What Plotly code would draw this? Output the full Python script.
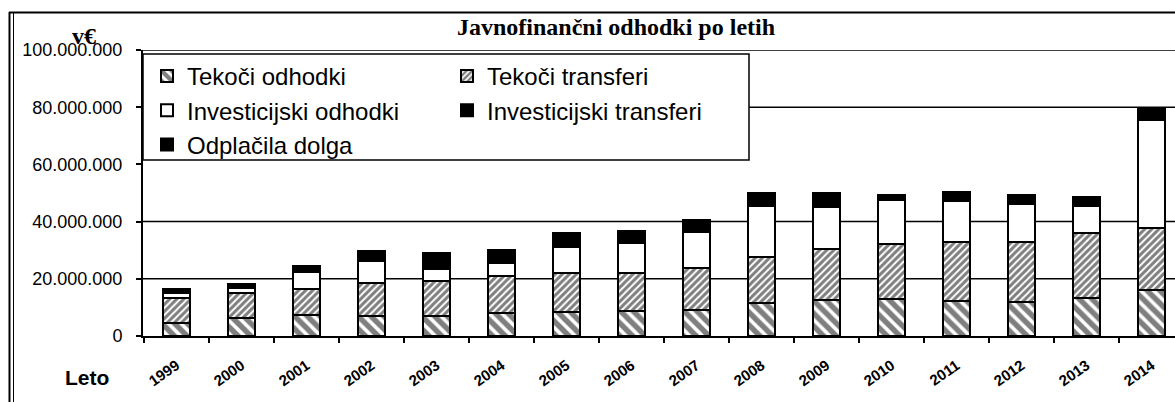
import plotly.graph_objects as go

# ---------------- data ----------------
years = ["1999", "2000", "2001", "2002", "2003", "2004", "2005", "2006",
         "2007", "2008", "2009", "2010", "2011", "2012", "2013", "2014"]

tekoci_odhodki = [4.5e6, 6.2e6, 7.3e6, 7.1e6, 7.1e6, 7.9e6, 8.5e6, 8.9e6,
                  9.2e6, 11.5e6, 12.5e6, 12.9e6, 12.1e6, 11.8e6, 13.2e6, 16.1e6]
tekoci_transferi = [8.7e6, 8.7e6, 9.0e6, 11.3e6, 12.1e6, 13.0e6, 13.6e6, 13.3e6,
                    14.7e6, 16.2e6, 17.9e6, 19.2e6, 20.9e6, 21.1e6, 22.8e6, 21.6e6]
investicijski_odhodki = [1.8e6, 1.75e6, 6.2e6, 7.8e6, 4.2e6, 4.8e6, 8.9e6, 10.2e6,
                         12.5e6, 17.7e6, 14.6e6, 15.3e6, 14.2e6, 13.1e6, 9.3e6, 38.0e6]
investicijski_transferi = [0.6e6, 0.6e6, 0.9e6, 1.6e6, 2.5e6, 2.0e6, 2.3e6, 1.9e6,
                           1.9e6, 2.0e6, 2.3e6, 0.8e6, 1.4e6, 1.4e6, 1.5e6, 1.8e6]
odplacila_dolga = [0.8e6, 0.9e6, 1.2e6, 1.9e6, 3.0e6, 2.5e6, 2.8e6, 2.4e6,
                   2.4e6, 2.5e6, 2.8e6, 1.2e6, 1.8e6, 1.8e6, 1.8e6, 2.3e6]

series_names = ["Tekoči odhodki", "Tekoči transferi", "Investicijski odhodki",
                "Investicijski transferi", "Odplačila dolga"]

y_ticks = [0, 20e6, 40e6, 60e6, 80e6, 100e6]
grid_values = [20e6, 40e6, 80e6, 100e6]   # 60M line not visible in the original

title_text = "Javnofinančni odhodki po letih"

# ---------------- layout helpers ----------------
W, H = 1175, 402
ML, MR, MT, MB = 143, 0, 50, 66
PW, PH = W - ML - MR, H - MT - MB


def px2x(px):
    return (px - ML) / PW


def px2y(py):
    return (H - MB - py) / PH


FONT = "Liberation Sans, Arial, sans-serif"
SERIF = "Liberation Serif, Times New Roman, serif"

line = dict(color="black", width=2)
styles = [
    dict(color="white", line=line,
         pattern=dict(shape="\\", fgcolor="black", bgcolor="white", size=9, solidity=0.6)),
    dict(color="white", line=line,
         pattern=dict(shape="/", fgcolor="black", bgcolor="white", size=5, solidity=0.6)),
    dict(color="white", line=line),
    dict(color="black", line=line),
    dict(color="black", line=line),
]
values = [tekoci_odhodki, tekoci_transferi, investicijski_odhodki,
          investicijski_transferi, odplacila_dolga]
legend_of = ["legend", "legend2", "legend", "legend2", "legend"]

fig = go.Figure()
for name, vals, st, lg in zip(series_names, values, styles, legend_of):
    fig.add_trace(go.Bar(x=years, y=vals, name=name, marker=st, width=0.42, legend=lg))

shapes = []
for g in grid_values:
    shapes.append(dict(type="line", xref="paper", yref="y", x0=0, x1=1, y0=g, y1=g,
                       line=dict(color="black", width=1.5), layer="below"))
# legend box
shapes.append(dict(type="rect", xref="paper", yref="paper",
                   x0=px2x(143), x1=px2x(749), y0=px2y(54), y1=px2y(160),
                   fillcolor="white", line=dict(color="black", width=1.5), layer="above"))
# outer frame of the scanned figure
shapes += [
    dict(type="line", xref="paper", yref="paper", x0=px2x(9.5), x1=px2x(9.5),
         y0=px2y(12), y1=px2y(402), line=dict(color="black", width=2)),
    dict(type="line", xref="paper", yref="paper", x0=px2x(13.5), x1=px2x(13.5),
         y0=px2y(12), y1=px2y(402), line=dict(color="black", width=1)),
    dict(type="line", xref="paper", yref="paper", x0=px2x(9), x1=px2x(1175),
         y0=px2y(12.5), y1=px2y(12.5), line=dict(color="black", width=2)),
]

legend_common = dict(orientation="v", xanchor="left", yanchor="top",
                     bgcolor="rgba(0,0,0,0)", borderwidth=0, itemwidth=30,
                     traceorder="normal", tracegroupgap=0,
                     font=dict(family=FONT, size=24, color="black"))

fig.update_layout(
    width=W, height=H,
    margin=dict(l=ML, r=MR, t=MT, b=MB, pad=0),
    paper_bgcolor="white", plot_bgcolor="white",
    barmode="stack",
    separators=",.",
    font=dict(family=FONT, color="black"),
    title=dict(text="<b>" + title_text + "</b>", x=616 / W, xanchor="center",
               y=1 - 27 / H, yanchor="middle", xref="container", yref="container",
               font=dict(family=SERIF, size=24, color="black")),
    xaxis=dict(type="category", range=[-0.515, 15.36], showgrid=False,
               showline=True, linecolor="black", linewidth=2,
               ticks="outside", tickson="boundaries", ticklen=5, tickwidth=1.5,
               tickcolor="black", tickangle=-35, ticklabelstandoff=13,
               tickfont=dict(family=FONT, size=15, color="black", weight="bold")),
    yaxis=dict(range=[0, 100e6], tickvals=y_ticks, tickformat=",d", showgrid=False,
               zeroline=False, showline=True, linecolor="black", linewidth=2,
               ticks="outside", ticklen=5, tickwidth=1.5, tickcolor="black",
               ticklabelstandoff=10,
               tickfont=dict(family=FONT, size=18, color="black")),
    legend=dict(x=px2x(147), y=px2y(54), **legend_common),
    legend2=dict(x=px2x(447), y=px2y(54), **legend_common),
    shapes=shapes,
    annotations=[
        dict(text="<b>v€</b>", xref="paper", yref="paper", x=px2x(84), y=px2y(36),
             showarrow=False, xanchor="center", yanchor="middle",
             font=dict(family=SERIF, size=24, color="black")),
        dict(text="<b>Leto</b>", xref="paper", yref="paper", x=px2x(87), y=px2y(377),
             showarrow=False, xanchor="center", yanchor="middle",
             font=dict(family=FONT, size=21, color="black")),
    ],
    showlegend=True,
)

fig.write_html("out.html", config={"displayModeBar": False},
               post_script="document.body.style.margin='0';")
